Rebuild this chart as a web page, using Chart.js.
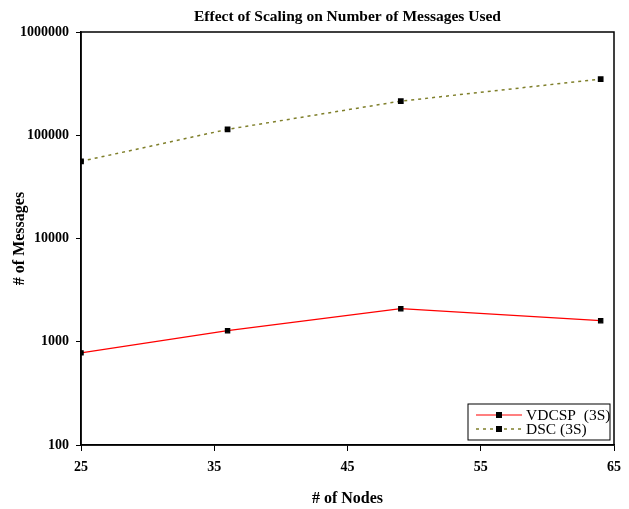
<!DOCTYPE html>
<html lang="en">
<head>
    <meta charset="UTF-8">
    <title>Effect of Scaling on Number of Messages Used</title>
    <script src="https://cdn.jsdelivr.net/npm/chart.js"></script>
    <style>
        body { margin: 0; background: #fff; }
        #wrap { width: 629px; height: 509px; }
    </style>
</head>
<body>
<div id="wrap"><canvas id="scalingChart"></canvas></div>

<script>
    const nodes = [25, 36, 49, 64];
    const vdcspMessages = [780, 1280, 2090, 1600];
    const dscMessages = [55900, 114000, 214000, 350000];
    const xTicks = [25, 35, 45, 55, 65];
    const yTicks = [100, 1000, 10000, 100000, 1000000];

    const serif = '"Liberation Serif", "DejaVu Serif", serif';

    function toPoints(xs, ys) {
        return xs.map((x, i) => ({ x: x, y: ys[i] }));
    }

    // frame around the plot, title + y title, legend box inside bottom right
    const framePlugin = {
        id: 'frame',
        afterDraw(chart) {
            const ctx = chart.ctx;
            const a = chart.chartArea;
            ctx.save();
            ctx.strokeStyle = '#000';
            ctx.lineWidth = 1.5;
            ctx.strokeRect(a.left, a.top, a.right - a.left, a.bottom - a.top);

            ctx.fillStyle = '#000';
            ctx.font = 'bold 15.5px ' + serif;
            ctx.textAlign = 'center';
            ctx.textBaseline = 'middle';
            ctx.fillText('Effect of Scaling on Number of Messages Used', (a.left + a.right) / 2, 17);

            ctx.save();
            ctx.translate(20, (a.top + a.bottom) / 2);
            ctx.rotate(-Math.PI / 2);
            ctx.font = 'bold 16px ' + serif;
            ctx.fillText('# of Messages', 0, 0);
            ctx.restore();

            const ds = chart.data.datasets;
            const boxW = 142, boxH = 36;
            const bx = a.right - boxW - 4, by = a.bottom - boxH - 5;
            ctx.fillStyle = '#fff';
            ctx.fillRect(bx, by, boxW, boxH);
            ctx.strokeStyle = '#000';
            ctx.lineWidth = 1;
            ctx.strokeRect(bx, by, boxW, boxH);
            ds.forEach((d, i) => {
                const y = by + 11 + i * 14;
                ctx.strokeStyle = d.borderColor;
                ctx.lineWidth = d.borderWidth;
                ctx.setLineDash(d.borderDash || []);
                ctx.beginPath();
                ctx.moveTo(bx + 8, y);
                ctx.lineTo(bx + 54, y);
                ctx.stroke();
                ctx.setLineDash([]);
                ctx.fillStyle = '#000';
                ctx.fillRect(bx + 28, y - 3, 6, 6);
                ctx.font = '15.5px ' + serif;
                ctx.textAlign = 'left';
                ctx.fillText(d.label, bx + 58, y + 1);
            });
            ctx.restore();
        }
    };

    const ctx = document.getElementById('scalingChart').getContext('2d');
    new Chart(ctx, {
        type: 'line',
        data: {
            datasets: [
                {
                    label: 'VDCSP  (3S)',
                    data: toPoints(nodes, vdcspMessages),
                    borderColor: '#ff0000',
                    borderWidth: 1.2,
                    pointStyle: 'rect',
                    pointRadius: 3,
                    pointBackgroundColor: '#000',
                    pointBorderColor: '#000',
                    tension: 0
                },
                {
                    label: 'DSC (3S)',
                    data: toPoints(nodes, dscMessages),
                    borderColor: '#7f7f2a',
                    borderWidth: 1.5,
                    borderDash: [3, 4],
                    pointStyle: 'rect',
                    pointRadius: 3,
                    pointBackgroundColor: '#000',
                    pointBorderColor: '#000',
                    tension: 0
                }
            ]
        },
        options: {
            responsive: true,
            maintainAspectRatio: false,
            animation: false,
            layout: { padding: { top: 32, right: 8, left: 13, bottom: 1 } },
            plugins: {
                legend: { display: false },
                tooltip: { enabled: false }
            },
            scales: {
                x: {
                    type: 'linear',
                    min: 25,
                    max: 65,
                    afterBuildTicks: axis => { axis.ticks = xTicks.map(v => ({ value: v })); },
                    grid: { drawOnChartArea: false, color: '#000', tickLength: 6, tickWidth: 1 },
                    border: { color: '#000', width: 1.5 },
                    ticks: { color: '#000', padding: 8, font: { family: serif, size: 14, weight: 'bold' } },
                    title: {
                        display: true,
                        text: '# of Nodes',
                        color: '#000',
                        padding: { top: 5, bottom: 0 },
                        font: { family: serif, size: 16, weight: 'bold' }
                    }
                },
                y: {
                    type: 'logarithmic',
                    min: 100,
                    max: 1000000,
                    afterBuildTicks: axis => { axis.ticks = yTicks.map(v => ({ value: v })); },
                    grid: { drawOnChartArea: false, color: '#000', tickLength: 5, tickWidth: 1 },
                    border: { color: '#000', width: 1.5 },
                    ticks: {
                        color: '#000',
                        padding: 7,
                        callback: v => String(v),
                        font: { family: serif, size: 14, weight: 'bold' }
                    }
                }
            }
        },
        plugins: [framePlugin]
    });
</script>
</body>
</html>
